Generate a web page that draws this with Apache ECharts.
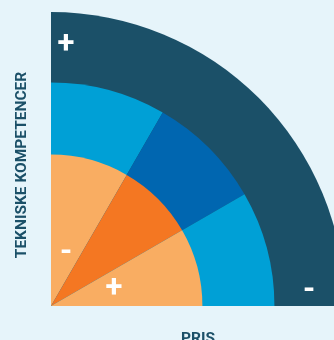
<!DOCTYPE html>
<html>
<head>
<meta charset="utf-8">
<script src="https://cdn.jsdelivr.net/npm/echarts@6/dist/echarts.min.js"></script>
<style>
  html, body { margin: 0; padding: 0; background: #e6f4fa; }
  #chart { width: 334px; height: 340px; }
</style>
</head>
<body>
<div id="chart"></div>
<script>
// ring boundaries (as percent of outer radius) and the angle split of each ring, in degrees
const ringOuter = [100, 76, 51.5];
const outerSlices = [90, 270];
const middleSlices = [30, 30, 30, 270];
const innerSlices = [30, 30, 30, 270];
const outerColors = ['#1b5068', 'transparent'];
const middleColors = ['#00a0d6', '#0066b0', '#00a0d6', 'transparent'];
const innerColors = ['#f9ad62', '#f47722', '#f9ad62', 'transparent'];
const yLabel = 'TEKNISKE KOMPETENCER';
const xLabel = 'PRIS';

const chart = echarts.init(document.getElementById('chart'));
const R = 294;
const center = [51, 306];

const ring = (values, colors, pct) => ({
  type: 'pie',
  center: center,
  radius: [0, R * pct / 100],
  startAngle: 90,
  clockwise: true,
  silent: true,
  animation: false,
  label: { show: false },
  labelLine: { show: false },
  emphasis: { disabled: true },
  itemStyle: { borderWidth: 0 },
  data: values.map((v, i) => ({ value: v, itemStyle: { color: colors[i] } }))
});

const sign = (txt, x, y) => ({
  type: 'text', x: x, y: y, z: 100,
  style: { text: txt, fill: '#fff', font: 'bold 31px Roboto', align: 'center', verticalAlign: 'middle' }
});

chart.setOption({
  backgroundColor: '#e6f4fa',
  series: [
    ring(outerSlices, outerColors, ringOuter[0]),
    ring(middleSlices, middleColors, ringOuter[1]),
    ring(innerSlices, innerColors, ringOuter[2])
  ],
  graphic: [
    {
      type: 'text', x: 22, y: 165, rotation: Math.PI / 2, z: 100,
      style: { text: yLabel, fill: '#1b5068', font: 'bold 15.5px Roboto', align: 'center', verticalAlign: 'middle' }
    },
    {
      type: 'text', x: 198, y: 339, z: 100,
      style: { text: xLabel, fill: '#1b5068', font: 'bold 15.5px Roboto', align: 'center', verticalAlign: 'middle' }
    },
    sign('+', 66, 45),
    sign('-', 66, 253),
    sign('+', 114, 289),
    sign('-', 309, 291)
  ]
});
</script>
</body>
</html>
